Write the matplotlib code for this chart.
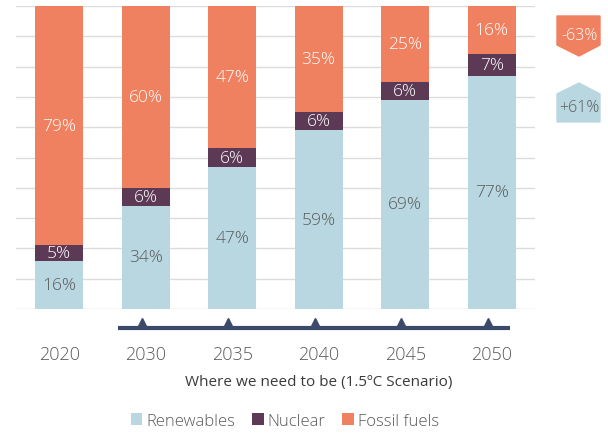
import matplotlib.pyplot as plt
import numpy as np
from matplotlib.patches import Polygon

years = ["2020", "2030", "2035", "2040", "2045", "2050"]
renewables = [16, 34, 47, 59, 69, 77]
nuclear = [5, 6, 6, 6, 6, 7]
fossil = [79, 60, 47, 35, 25, 16]
changes = ["-63%", "+61%"]

C_REN = "#b9d7e1"
C_NUC = "#5c3a55"
C_FOS = "#f08160"
C_TXT = "#5a5a5a"
C_NAVY = "#3b4a6b"

plt.rcParams["font.family"] = ["Open Sans", "DejaVu Sans"]
LIGHT = "light"

W, H = 608, 435
fig = plt.figure(figsize=(W / 100, H / 100), dpi=100)
ax = fig.add_axes([16 / W, 1 - 310 / H, (535 - 16) / W, (310 - 7) / H])

x = np.arange(len(years))
width = 0.55
ren = np.array(renewables)
nuc = np.array(nuclear)
fos = np.array(fossil)

ax.bar(x, ren, width, color=C_REN, label="Renewables", zorder=2)
ax.bar(x, nuc, width, bottom=ren, color=C_NUC, label="Nuclear", zorder=2)
ax.bar(x, fos, width, bottom=ren + nuc, color=C_FOS, label="Fossil fuels", zorder=2)

lbl = dict(ha="center", va="center", fontsize=12.5, fontweight=LIGHT, zorder=3)
for i in x:
    ax.text(i, ren[i] / 2, f"{ren[i]}%", color=C_TXT, **lbl)
    ax.text(i, ren[i] + nuc[i] / 2, f"{nuc[i]}%", color="white", **lbl)
    ax.text(i, ren[i] + nuc[i] + fos[i] / 2, f"{fos[i]}%", color="white", **lbl)

ax.set_xlim(-0.5, 5.5)
ax.set_ylim(0, 100)
ax.set_yticks(np.arange(0, 101, 10))
ax.set_yticklabels([])
ax.grid(axis="y", color="#dcdcdc", linewidth=1, zorder=0)
ax.set_axisbelow(True)
for s in ax.spines.values():
    s.set_visible(False)
ax.tick_params(axis="y", length=0)
ax.set_xticks(x)
ax.set_xticklabels(years, fontsize=13, color=C_TXT, fontweight=LIGHT)
ax.tick_params(axis="x", length=0, pad=26)

# timeline under the scenario years
tr = ax.get_xaxis_transform()
ty = -19 / 303
ax.plot([0.68, 5.21], [ty, ty], color=C_NAVY, linewidth=3, transform=tr, clip_on=False,
        solid_capstyle="butt")
ax.plot(x[1:] - 0.045, [ty + 0.016] * 5, marker="^", linestyle="none", markersize=7,
        color=C_NAVY, transform=tr, clip_on=False)
ax.text(np.mean(x[1:]), -73 / 303, "Where we need to be (1.5ºC Scenario)", transform=tr,
        ha="center", va="center", fontsize=11, color="#3a3a3a")

leg = ax.legend(loc="center", bbox_to_anchor=(285 / W, 1 - 422 / H), bbox_transform=fig.transFigure,
                ncol=3, frameon=False, handlelength=0.7, handleheight=0.7,
                handletextpad=0.25, columnspacing=1.0, labelcolor=C_TXT,
                prop={"size": 12, "weight": LIGHT})


def px(pts):
    return [(a / W, 1 - b / H) for a, b in pts]


# change badges on the right
down = Polygon(px([(557, 17), (600, 17), (600, 46), (579, 57), (557, 46)]), closed=True,
               color=C_FOS, transform=fig.transFigure)
up = Polygon(px([(557, 95), (579, 84), (600, 95), (600, 123), (557, 123)]), closed=True,
             color=C_REN, transform=fig.transFigure)
fig.add_artist(down)
fig.add_artist(up)
fig.text(579 / W, 1 - 36 / H, changes[0], ha="center", va="center", fontsize=11.5,
         fontweight=LIGHT, color="white")
fig.text(579 / W, 1 - 108 / H, changes[1], ha="center", va="center", fontsize=11.5,
         fontweight=LIGHT, color=C_TXT)

fig.savefig("out.png", dpi=100)
